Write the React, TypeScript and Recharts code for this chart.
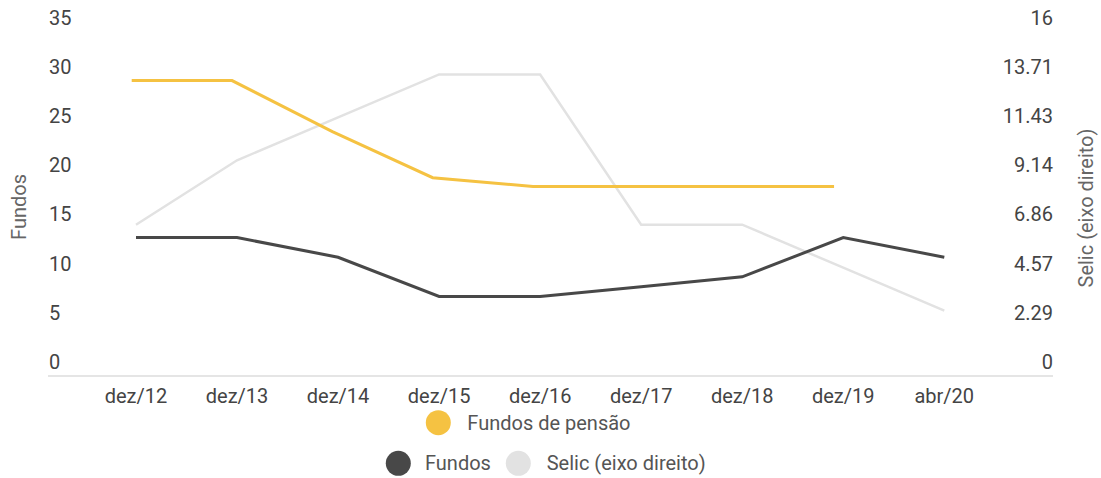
import React from "react";
import { LineChart, Line, XAxis, YAxis } from "recharts";

const categories = ["dez/12", "dez/13", "dez/14", "dez/15", "dez/16", "dez/17", "dez/18", "dez/19", "abr/20"];
const fundosPensao: (number | null)[] = [30, 30, 24.8, 20.1, 19.2, 19.2, 19.2, 19.2, null];
const fundos = [14, 14, 12, 8, 8, 9, 10, 14, 12];
const selic = [7, 10, 12, 14, 14, 7, 7, 5, 3];
const leftTicks = [0, 5, 10, 15, 20, 25, 30, 35];
const rightTicks = [0, 1, 2, 3, 4, 5, 6, 7].map((k) => (16 * k) / 7);

const data = categories.map((c, i) => ({
  cat: c,
  pensao: fundosPensao[i],
  fundos: fundos[i],
  selic: selic[i],
}));

const FONT = "Roboto, 'Noto Sans', sans-serif";
const YELLOW = "#F5C242";
const DARK = "#484848";
const LIGHT = "#E2E2E2";
const TICK = "#444";

const LeftTick = (props: any) => {
  const { y, payload } = props;
  return (
    <text x={49} y={y - 13.3} textAnchor="start" dominantBaseline="central" fill={TICK} fontSize={20} fontFamily={FONT}>
      {payload.value}
    </text>
  );
};

const fmtRight = (v: number) => (v === 0 ? "0" : Math.abs(v - 16) < 1e-9 ? "16" : v.toFixed(2));

const RightTick = (props: any) => {
  const { y, payload } = props;
  return (
    <text x={1053} y={y - 13.3} textAnchor="end" dominantBaseline="central" fill={TICK} fontSize={20} fontFamily={FONT}>
      {fmtRight(payload.value)}
    </text>
  );
};

const BottomTick = (props: any) => {
  const { x, payload } = props;
  return (
    <text x={x} y={396} textAnchor="middle" dominantBaseline="central" fill={TICK} fontSize={20} fontFamily={FONT}>
      {payload.value}
    </text>
  );
};

const LeftTitle = () => (
  <text x={19} y={207} transform="rotate(-90 19 207)" textAnchor="middle" dominantBaseline="central" fill="#666" fontSize={20} fontFamily={FONT}>
    Fundos
  </text>
);

const RightTitle = () => (
  <text x={1085.5} y={208} transform="rotate(-90 1085.5 208)" textAnchor="middle" dominantBaseline="central" fill="#666" fontSize={20} fontFamily={FONT}>
    Selic (eixo direito)
  </text>
);

export default function App() {
  return (
    <div style={{ position: "absolute", left: 0, top: 0, width: 1101, height: 478, background: "#fff" }}>
      <LineChart
        width={1101}
        height={478}
        data={data}
        margin={{ top: 31.5, right: 0, bottom: 0, left: 0 }}
      >
        <XAxis
          xAxisId="a"
          dataKey="cat"
          height={103}
          axisLine={false}
          tickLine={false}
          padding={{ left: 54.5, right: 50.5 }}
          tick={<BottomTick />}
          interval={0}
        />
        <XAxis xAxisId="b" dataKey="cat" hide padding={{ left: 50.2, right: 60.4 }} />
        <YAxis
          yAxisId="left"
          width={81.5}
          domain={[0, 35]}
          ticks={leftTicks}
          axisLine={false}
          tickLine={false}
          tick={<LeftTick />}
          label={<LeftTitle />}
        />
        <YAxis
          yAxisId="right"
          orientation="right"
          width={106.2}
          domain={[0, 16]}
          ticks={rightTicks}
          axisLine={false}
          tickLine={false}
          tick={<RightTick />}
          label={<RightTitle />}
        />
        <Line
          xAxisId="a"
          yAxisId="right"
          type="linear"
          dataKey="selic"
          name="Selic (eixo direito)"
          stroke={LIGHT}
          strokeWidth={2.5}
          dot={false}
          activeDot={false}
          isAnimationActive={false}
        />
        <Line
          xAxisId="a"
          yAxisId="left"
          type="linear"
          dataKey="fundos"
          name="Fundos"
          stroke={DARK}
          strokeWidth={3}
          dot={false}
          activeDot={false}
          isAnimationActive={false}
        />
        <Line
          xAxisId="b"
          yAxisId="left"
          type="linear"
          dataKey="pensao"
          name="Fundos de pensão"
          stroke={YELLOW}
          strokeWidth={3}
          dot={false}
          activeDot={false}
          isAnimationActive={false}
        />
      </LineChart>
      <svg width={1101} height={478} style={{ position: "absolute", left: 0, top: 0, pointerEvents: "none" }}>
        <line x1={48} x2={1053} y1={376} y2={376} stroke="#DCDCDC" strokeWidth={1.5} />
        <circle cx={438.3} cy={422.7} r={12.5} fill={YELLOW} />
        <text x={467.3} y={422.5} dominantBaseline="central" fill="#555" fontSize={20} fontFamily={FONT}>
          Fundos de pensão
        </text>
        <circle cx={398.3} cy={463.3} r={12.5} fill={DARK} />
        <text x={425} y={463} dominantBaseline="central" fill="#555" fontSize={20} fontFamily={FONT}>
          Fundos
        </text>
        <circle cx={518.3} cy={463.3} r={12.5} fill={LIGHT} />
        <text x={546.7} y={463} dominantBaseline="central" fill="#555" fontSize={20} fontFamily={FONT}>
          Selic (eixo direito)
        </text>
      </svg>
    </div>
  );
}
